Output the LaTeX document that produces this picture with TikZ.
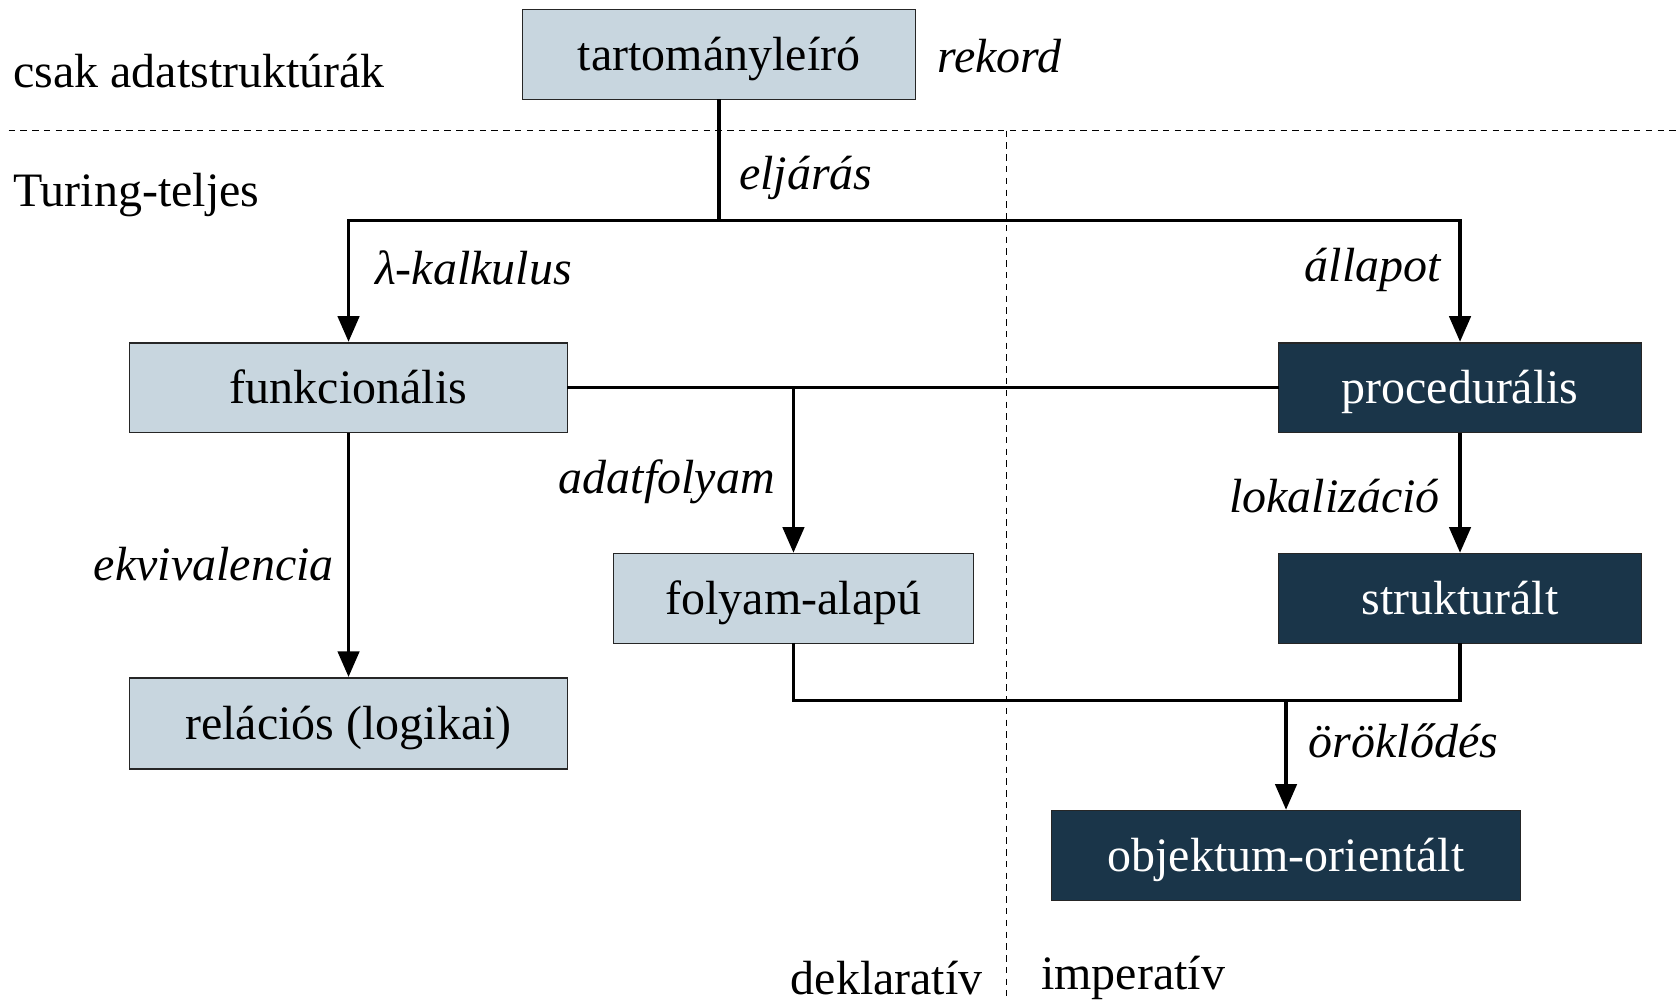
\documentclass[tikz,border=0pt]{standalone}
\usepackage{fontspec}
\setmainfont{Liberation Serif}
\usetikzlibrary{arrows.meta}
\definecolor{lightbox}{RGB}{200,214,223}
\definecolor{darkbox}{RGB}{26,53,73}
\tikzset{
  base/.style={draw=black!85, line width=0.8pt, inner sep=0pt, align=center, text height=19pt, text depth=4pt, font=\fontsize{22.4}{26}\selectfont},
  lbox/.style={base, fill=lightbox, text=black},
  dbox/.style={base, fill=darkbox, text=white},
  conn/.style={line width=1.6pt, line cap=rect},
  arr/.style={line width=1.6pt, -{Triangle[length=12pt,width=10pt]}},
  lab/.style={font=\fontsize{22.4}{26}\selectfont\itshape, inner sep=0pt},
  txt/.style={font=\fontsize{22.4}{26}\selectfont, inner sep=0pt},
  sep/.style={line width=0.5pt, dash pattern=on 3pt off 2.5pt}
}
\begin{document}
\begin{tikzpicture}[x=0.5pt,y=-0.5pt]
\useasboundingbox (0,0) rectangle (1568,937);
% separators
\draw[sep] (8,122) coordinate (h1) -- (1568,122) coordinate (h2);
\draw[sep] (940,122) coordinate (v1) -- (940,930) coordinate (v2);
% nodes
\node[lbox, minimum width=183.5pt, minimum height=42pt] (tart) at (671.5,51) {tartományleíró};
\node[lbox, minimum width=204.5pt, minimum height=42pt] (funk) at (325.5,362) {funkcionális};
\node[dbox, minimum width=169.5pt, minimum height=42pt] (proc) at (1363.5,362) {procedurális};
\node[lbox, minimum width=168pt, minimum height=42pt] (foly) at (741,559) {folyam-alapú};
\node[lbox, minimum width=204.5pt, minimum height=42.5pt] (rel) at (325.5,675.5) {relációs (logikai)};
\node[dbox, minimum width=169.5pt, minimum height=42pt] (strukt) at (1363.5,559) {strukturált};
\node[dbox, minimum width=219pt, minimum height=42pt] (obj) at (1201,799) {objektum-orientált};
% texts
\node[txt, anchor=west] (csak) at (12,66) {csak adatstruktúrák};
\node[txt, anchor=west] (turing) at (12,182) {Turing-teljes};
\node[txt, anchor=east] (dekl) at (918,913) {deklaratív};
\node[txt, anchor=west] (imp) at (972,913) {imperatív};
\node[lab, anchor=west] (rek) at (875,52) {rekord};
\node[lab, anchor=west] (elj) at (690,166) {eljárás};
\node[lab, anchor=west] (lam) at (350,250) {λ-kalkulus};
\node[lab, anchor=east] (all) at (1346,252) {állapot};
\node[lab, anchor=east] (adat) at (724,450) {adatfolyam};
\node[lab, anchor=east] (ekv) at (312,527) {ekvivalencia};
\node[lab, anchor=east] (lok) at (1345,463) {lokalizáció};
\node[lab, anchor=west] (oro) at (1222,692) {öröklődés};
% connectors
\coordinate (j1) at (671.5,206);
\coordinate (j2) at (741,654);
\draw[conn] (tart.south) -- (j1);
\draw[conn] (funk.north |- j1) -- (proc.north |- j1);
\draw[arr] (funk.north |- j1) -- (funk.north);
\draw[arr] (proc.north |- j1) -- (proc.north);
\draw[conn] (funk.east) -- (proc.west);
\draw[arr] (foly.north |- funk.east) -- (foly.north);
\draw[arr] (funk.south) -- (rel.north);
\draw[arr] (proc.south) -- (strukt.north);
\draw[conn] (foly.south) -- (j2) -| (strukt.south);
\draw[arr] (obj.north |- j2) -- (obj.north);
\end{tikzpicture}
\end{document}
